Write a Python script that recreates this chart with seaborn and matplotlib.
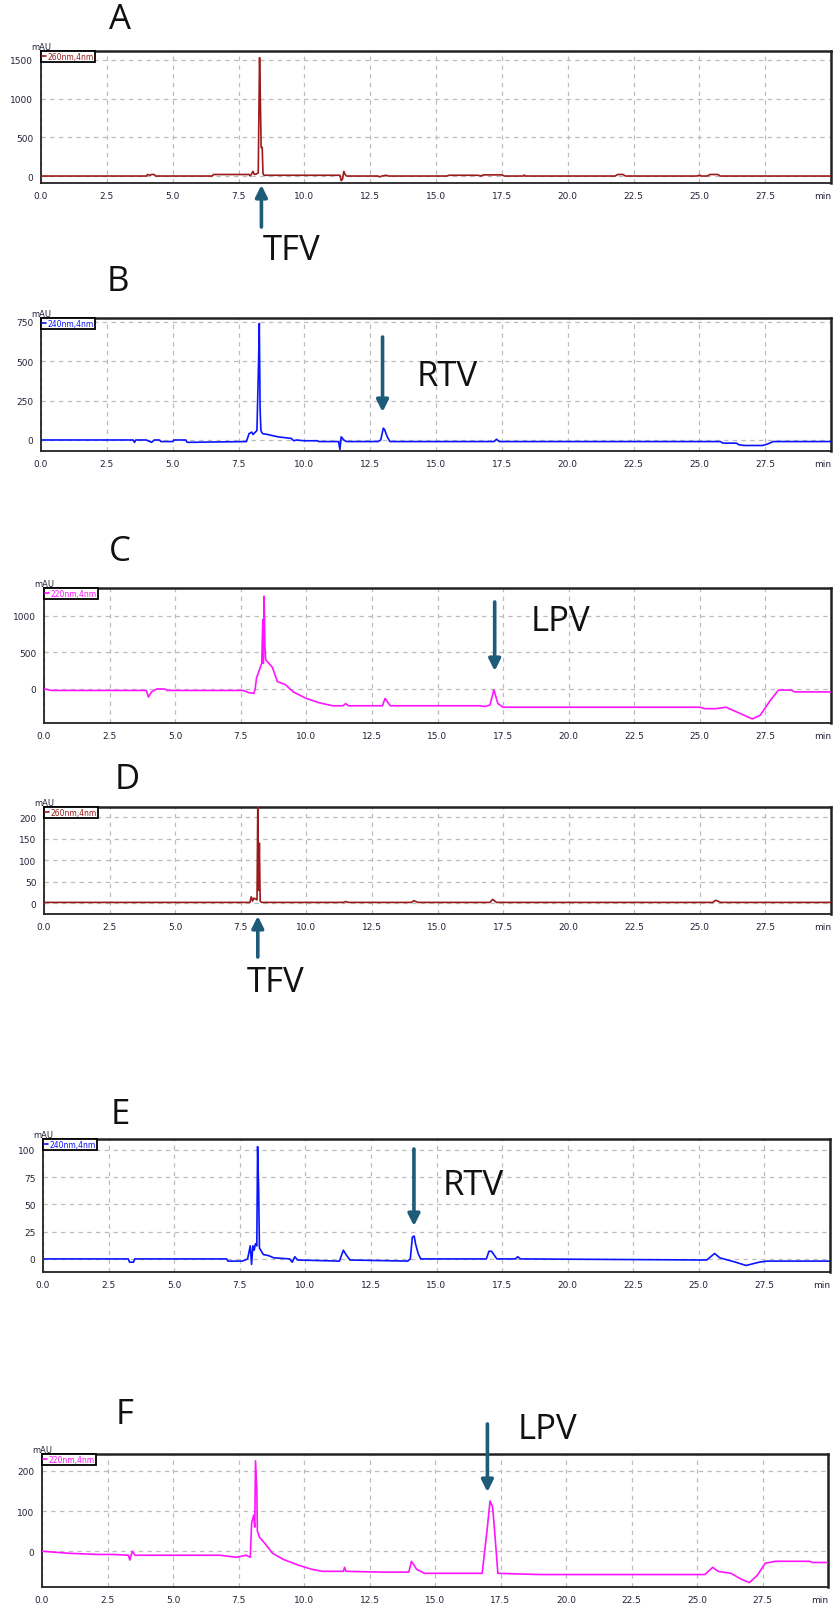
import matplotlib
matplotlib.use("Agg")
import matplotlib.pyplot as plt
import numpy as np
import pandas as pd
import seaborn as sns
from matplotlib.ticker import MultipleLocator, FuncFormatter

# ---------------- data ----------------
a_t = [0, 4.0, 4.05, 4.15, 4.2, 4.3, 4.35, 6.5, 6.55, 7.9, 7.95, 8.05, 8.1, 8.2, 8.25,
       8.28, 8.3, 8.33, 8.36, 8.4, 8.43, 8.47, 9.0, 11.35, 11.4, 11.45, 11.5, 11.55, 11.6,
       12.8, 12.85, 12.95, 13.1, 13.2, 15.4, 15.5, 15.6, 16.6, 16.7, 16.8, 17.5, 17.6, 18.3,
       18.35, 18.4, 21.8, 21.9, 22.1, 22.2, 24.9, 25.0, 25.1, 25.3, 25.4, 25.7, 25.8, 30]
a_v = [0, 0, 20, 10, 20, 20, 0, 0, 20, 20, 0, 60, 20, 30, 40,
       980, 1530, 980, 370, 370, 30, 10, 10, 10, -60, -40, 60, 20, 0,
       0, -10, 0, 10, 0, 0, 10, 10, 10, 0, 15, 15, 0, 0,
       12, 0, 0, 20, 20, 0, 0, 10, 0, 0, 20, 20, 0, 0]

b_t = [0, 3.5, 3.55, 3.6, 4.0, 4.2, 4.3, 4.5, 4.55, 5.0, 5.05, 5.5, 5.55, 7.8, 7.9, 8.0,
       8.05, 8.2, 8.26, 8.29, 8.32, 8.35, 8.38, 8.42, 8.6, 9.0, 9.5, 9.6, 9.7, 10.0, 10.5,
       10.55, 11.3, 11.35, 11.4, 11.5, 11.6, 12.8, 12.9, 13.0, 13.05, 13.15, 13.25, 17.2,
       17.3, 17.4, 25.8, 25.9, 26.4, 26.5, 26.7, 27.4, 27.6, 27.8, 28.0, 30]
b_v = [0, 0, -15, 0, 0, -15, 0, 0, -10, -10, 0, 0, -15, -10, 40, 50,
       35, 60, 480, 740, 200, 60, 50, 40, 35, 20, 10, -5, 0, -5, -5,
       -10, -10, -60, 20, 0, -10, -10, 0, 75, 65, 20, -10, -10,
       5, -10, -10, -20, -20, -30, -35, -35, -25, -10, -10, -10]

c_t = [0, 0.3, 3.9, 3.98, 4.1, 4.3, 4.6, 4.7, 7.6, 7.8, 8.0, 8.05, 8.1, 8.3, 8.34, 8.36,
       8.39, 8.42, 8.45, 8.5, 8.7, 8.9, 9.2, 9.5, 10.0, 10.5, 11.0, 11.4, 11.5, 11.6, 12.9,
       13.0, 13.1, 13.2, 16.6, 16.8, 17.0, 17.15, 17.3, 17.5, 25.0, 25.2, 25.6, 26.0, 26.5,
       27.0, 27.3, 27.7, 28.0, 28.5, 28.6, 30]
c_v = [0, -20, -20, -110, -40, 0, 0, -20, -20, -50, -60, 0, 150, 350, 950, 350,
       1270, 600, 400, 380, 300, 100, 60, -40, -130, -190, -230, -230, -200, -230, -230,
       -130, -180, -230, -230, -240, -220, -10, -200, -250, -250, -270, -270, -250, -330,
       -410, -360, -150, -15, -15, -40, -40]

d_t = [0, 7.85, 7.9, 7.95, 8.0, 8.12, 8.15, 8.18, 8.21, 8.24, 8.3, 11.4, 11.5, 11.6, 14.0,
       14.1, 14.25, 17.0, 17.1, 17.25, 25.5, 25.6, 25.8, 30]
d_v = [2, 2, 15, 5, 12, 8, 235, 30, 140, 5, 2, 2, 4, 2, 2,
       6, 2, 2, 9, 2, 2, 7, 2, 2]

e_t = [0, 3.25, 3.3, 3.45, 3.5, 7.0, 7.05, 7.6, 7.8, 7.9, 7.95, 8.0, 8.05, 8.1, 8.15,
       8.18, 8.22, 8.25, 8.3, 8.4, 8.6, 8.8, 9.4, 9.5, 9.6, 9.7, 11.3, 11.45, 11.55, 11.7,
       13.9, 14.0, 14.08, 14.15, 14.2, 14.3, 14.4, 16.9, 17.0, 17.1, 17.3, 18.0, 18.1, 18.2,
       25.3, 25.5, 25.6, 25.8, 26.4, 26.8, 27.3, 27.6, 30]
e_v = [0, 0, -3, -3, 0, 0, -2, -2, 0, 12, -5, 12, 8, 14, 12,
       103, 65, 10, 8, 4, 3, 1, 0, -3, 2, -1, -2, 8, 4, -1,
       -2, 0, 20, 21, 14, 5, 0, 0, 7, 7, 0, 0, 2, 0,
       -1, 3, 5, 1, -3, -6, -3, -2, -2]

f_t = [0, 1.0, 2.1, 2.7, 3.3, 3.35, 3.45, 3.55, 6.8, 7.4, 7.8, 7.95, 8.0, 8.08, 8.12,
       8.15, 8.2, 8.22, 8.3, 8.5, 8.8, 9.2, 9.8, 10.3, 10.7, 11.5, 11.55, 11.6, 13.0, 14.0,
       14.1, 14.3, 14.6, 16.8, 17.0, 17.1, 17.2, 17.3, 17.4, 19.0, 25.3, 25.6, 25.8, 26.3,
       26.7, 27.0, 27.3, 27.6, 28.0, 29.3, 29.4, 30]
f_v = [0, -5, -8, -8, -10, -22, 0, -10, -10, -15, -10, -15, 70, 90, 60,
       225, 150, 50, 35, 20, -5, -20, -35, -45, -50, -50, -40, -50, -52, -52,
       -25, -45, -55, -55, 60, 125, 110, 30, -55, -58, -58, -40, -50, -55,
       -70, -78, -60, -30, -25, -25, -28, -28]

panel_labels = ["A", "B", "C", "D", "E", "F"]
channel_labels = ["260nm,4nm", "240nm,4nm", "220nm,4nm", "260nm,4nm", "240nm,4nm", "220nm,4nm"]
x_ticks = [0.0, 2.5, 5.0, 7.5, 10.0, 12.5, 15.0, 17.5, 20.0, 22.5, 25.0, 27.5, 30.0]

# ---------------- style / layout ----------------
sns.set_style("white")
plt.rcParams["font.family"] = ["DejaVu Sans"]

W, H = 838, 1606
fig = plt.figure(figsize=(W / 100, H / 100), dpi=100)

# (left, top, right, bottom) in pixels
boxes = [(41, 52, 831, 184), (41, 319, 831, 452), (44, 589, 831, 724),
         (44, 808, 831, 915), (43, 1140, 830, 1273), (42, 1455, 828, 1588)]
ylims = [(-90, 1616), (-70, 775), (-466, 1383), (-25, 224), (-12, 110), (-89, 242)]
ymajor = [500, 250, 500, 50, 25, 100]
yminor = [100, 50, 100, 10, 5, 20]
colors = ["#9a1b1b", "#0a14ff", "#ff14ff", "#9a1b1b", "#0a14ff", "#ff14ff"]
title_pos = [(120, 20), (118, 282), (120, 552), (127, 780), (120, 1115), (125, 1415)]

series = [(a_t, a_v), (b_t, b_v), (c_t, c_v), (d_t, d_v), (e_t, e_v), (f_t, f_v)]

tick_color = "#22223a"
arrow_color = "#1d5b79"
label_font = ["Open Sans", "DejaVu Sans"]

axes = []
for i, ((l, t, r, b), (tt, vv)) in enumerate(zip(boxes, series)):
    ax = fig.add_axes([l / W, 1 - b / H, (r - l) / W, (b - t) / H])
    axes.append(ax)
    df = pd.DataFrame({"time": tt, "mAU": vv})
    sns.lineplot(data=df, x="time", y="mAU", ax=ax, color=colors[i], lw=1.2,
                 estimator=None, sort=False, label=channel_labels[i], zorder=3)
    ax.set_xlim(0, 30)
    ax.set_ylim(*ylims[i])
    ax.set_xlabel("")
    ax.set_ylabel("")
    ax.xaxis.set_major_locator(plt.FixedLocator(x_ticks))
    ax.xaxis.set_minor_locator(MultipleLocator(0.5))
    ax.yaxis.set_major_locator(MultipleLocator(ymajor[i]))
    ax.yaxis.set_minor_locator(MultipleLocator(yminor[i]))
    ax.xaxis.set_major_formatter(FuncFormatter(lambda x, p: "min" if abs(x - 30) < 1e-6 else f"{x:.1f}"))
    ax.yaxis.set_major_formatter(FuncFormatter(lambda y, p: f"{y:.0f}"))
    ax.tick_params(axis="both", which="major", direction="out", length=4, width=1,
                   colors="black", labelcolor=tick_color, labelsize=6.5, pad=1.5)
    ax.tick_params(axis="both", which="minor", direction="out", length=2.5, width=0.8,
                   colors="black")
    ax.grid(True, which="major", color="#bcbcbc", linestyle=(0, (3.5, 3.5)), linewidth=0.9, zorder=0)
    for side in ["top", "right"]:
        ax.spines[side].set_linewidth(1.8)
        ax.spines[side].set_color("#222222")
    for side in ["left", "bottom"]:
        ax.spines[side].set_linewidth(1.3)
        ax.spines[side].set_color("#222222")
    leg = ax.legend(loc="upper left", bbox_to_anchor=(0, 1), borderaxespad=0, frameon=True,
                    fancybox=False, edgecolor="black", fontsize=5.5, handlelength=0.5,
                    handletextpad=0.2, borderpad=0.15, labelcolor="linecolor", framealpha=1)
    leg.get_frame().set_linewidth(1.3)
    ax.text(0.0, 1.0, "mAU", transform=ax.transAxes, ha="center", va="bottom",
            fontsize=6, color=tick_color)
    tx, ty = title_pos[i]
    fig.text(tx / W, 1 - ty / H, panel_labels[i], ha="center", va="center",
             fontsize=25, family=label_font, color="#111111")
    # keep the right-most "min" label inside the figure
    ax.get_xticklabels()[-1].set_horizontalalignment("right")


def yfrac(i, ypx):
    l, t, r, b = boxes[i]
    return (b - ypx) / (b - t)


def add_arrow(i, x_data, y_tail_px, y_tip_px):
    ax = axes[i]
    tr = ax.get_xaxis_transform()
    ax.annotate("", xy=(x_data, yfrac(i, y_tip_px)), xycoords=tr,
                xytext=(x_data, yfrac(i, y_tail_px)), textcoords=tr,
                arrowprops=dict(arrowstyle="-|>,head_length=0.7,head_width=0.35",
                                color=arrow_color, lw=2.6, shrinkA=0, shrinkB=0),
                annotation_clip=False, zorder=5)


def add_label(i, x_data, y_px, text):
    ax = axes[i]
    ax.text(x_data, yfrac(i, y_px), text, transform=ax.get_xaxis_transform(),
            ha="center", va="center", fontsize=25, family=label_font, color="#111111",
            clip_on=False)


# Peak annotations
add_arrow(0, 8.37, 228, 186)
add_label(0, 9.5, 251, "TFV")
add_arrow(1, 12.97, 338, 413)
add_label(1, 15.43, 377, "RTV")
add_arrow(2, 17.18, 603, 672)
add_label(2, 19.7, 622, "LPV")
add_arrow(3, 8.15, 958, 917)
add_label(3, 8.84, 983, "TFV")
add_arrow(4, 14.14, 1150, 1227)
add_label(4, 16.4, 1186, "RTV")
add_arrow(5, 17.0, 1425, 1493)
add_label(5, 19.3, 1430, "LPV")

fig.savefig("out.png", dpi=100, facecolor="white")
